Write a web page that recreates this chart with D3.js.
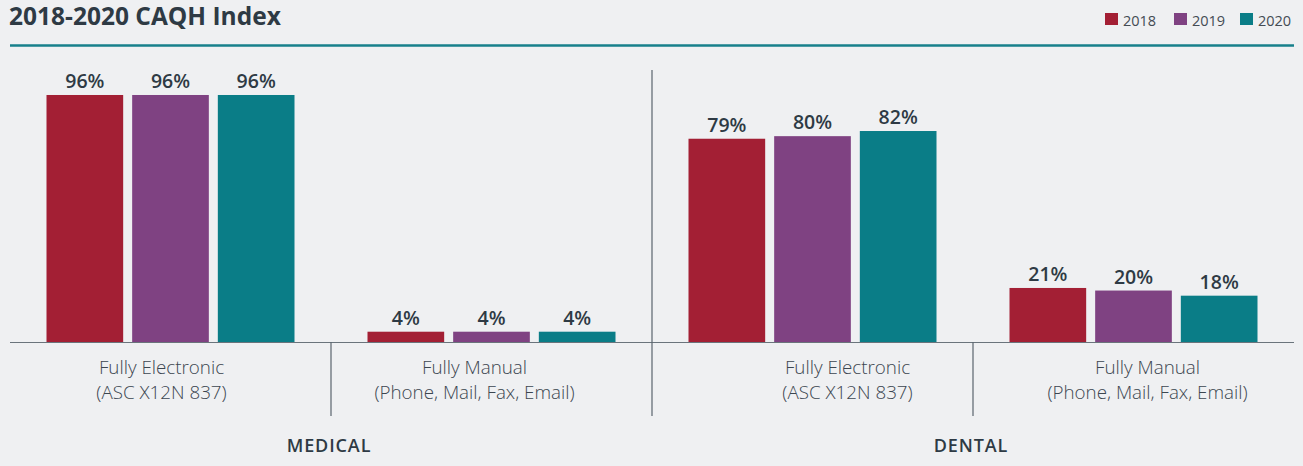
<!DOCTYPE html>
<html>
<head>
<meta charset="utf-8">
<script src="https://cdn.jsdelivr.net/npm/d3@7"></script>
<style>
  body { margin: 0; background: #eff0f2; }
  svg { display: block; font-family: "Open Sans", sans-serif; }
</style>
</head>
<body>
<div id="chart"></div>
<script>
// chart data
const years = ['2018', '2019', '2020'];
const categories = ['med-elec', 'med-man', 'den-elec', 'den-man'];
const catLines = [
  ['Fully Electronic', '(ASC X12N 837)'],
  ['Fully Manual', '(Phone, Mail, Fax, Email)'],
  ['Fully Electronic', '(ASC X12N 837)'],
  ['Fully Manual', '(Phone, Mail, Fax, Email)']
];
const groups = ['MEDICAL', 'DENTAL'];
const values2018 = [96, 4, 79, 21];
const values2019 = [96, 4, 80, 20];
const values2020 = [96, 4, 82, 18];

const colors = ['#a31f34', '#7f4282', '#0a7d87'];
const series = [values2018, values2019, values2020];

const width = 1303, height = 466;
const baseY = 342;

const svg = d3.select('#chart').append('svg')
  .attr('width', width)
  .attr('height', height);

// title + rule
svg.append('text')
  .attr('x', 9).attr('y', 25)
  .attr('font-size', 24.5).attr('font-weight', 700)
  .attr('fill', '#2e3a44')
  .text('2018-2020 CAQH Index');

svg.append('line')
  .attr('x1', 10).attr('x2', 1294)
  .attr('y1', 45.5).attr('y2', 45.5)
  .attr('stroke', '#17808b').attr('stroke-width', 2.5);

// legend
const legend = svg.append('g');
const legX = [1105, 1174, 1240];
years.forEach((yr, i) => {
  legend.append('rect')
    .attr('x', legX[i]).attr('y', 13)
    .attr('width', 13).attr('height', 12)
    .attr('fill', colors[i]);
  legend.append('text')
    .attr('x', legX[i] + 18).attr('y', 25.5)
    .attr('font-size', 14.5).attr('font-weight', 400)
    .attr('fill', '#444c54')
    .text(yr);
});

// scales
const x0 = d3.scaleBand().domain(categories).range([10, 1294]);
const x1 = d3.scaleBand().domain(years).range([0, 248]).paddingInner(0.105);
const y = d3.scaleLinear().domain([0, 100]).range([baseY, baseY - 257.3]);

// bars
const g = svg.append('g');
years.forEach((yr, si) => {
  categories.forEach((c, ci) => {
    const v = series[si][ci];
    const bx = x0(c) + (x0.bandwidth() - 248) / 2 + x1(yr);
    g.append('rect')
      .attr('x', bx)
      .attr('y', y(v))
      .attr('width', x1.bandwidth())
      .attr('height', baseY - y(v))
      .attr('fill', colors[si]);
    g.append('text')
      .attr('x', bx + x1.bandwidth() / 2)
      .attr('y', y(v) - 7)
      .attr('text-anchor', 'middle')
      .attr('font-size', 19.5).attr('font-weight', 600)
      .attr('fill', '#2e3a44')
      .text(v + '%');
  });
});

// baseline
svg.append('line')
  .attr('x1', 10).attr('x2', 1294)
  .attr('y1', baseY + 0.5).attr('y2', baseY + 0.5)
  .attr('stroke', '#6a747c').attr('stroke-width', 1.2);

// dividers
categories.slice(1).forEach((c, i) => {
  svg.append('line')
    .attr('x1', x0(c)).attr('x2', x0(c))
    .attr('y1', i === 1 ? 70 : baseY).attr('y2', 416)
    .attr('stroke', '#59646d').attr('stroke-width', 1.2);
});

// category labels (small nudges to match original layout), one text per line
const labelNudge = [-9, -17, 35, 14];
categories.forEach((c, ci) => {
  catLines[ci].forEach((ln, li) => {
    svg.append('text')
      .attr('x', x0(c) + x0.bandwidth() / 2 + labelNudge[ci])
      .attr('y', 374 + li * 25)
      .attr('text-anchor', 'middle')
      .attr('font-size', 18.8).attr('font-weight', 300)
      .attr('fill', '#3c4650')
      .text(ln);
  });
});

// group labels
groups.forEach((gname, gi) => {
  svg.append('text')
    .attr('x', x0(categories[gi * 2 + 1]) - 2)
    .attr('y', 452)
    .attr('text-anchor', 'middle')
    .attr('font-size', 18).attr('font-weight', 600)
    .attr('letter-spacing', 0.9)
    .attr('fill', '#2e3a44')
    .text(gname);
});
</script>
</body>
</html>
